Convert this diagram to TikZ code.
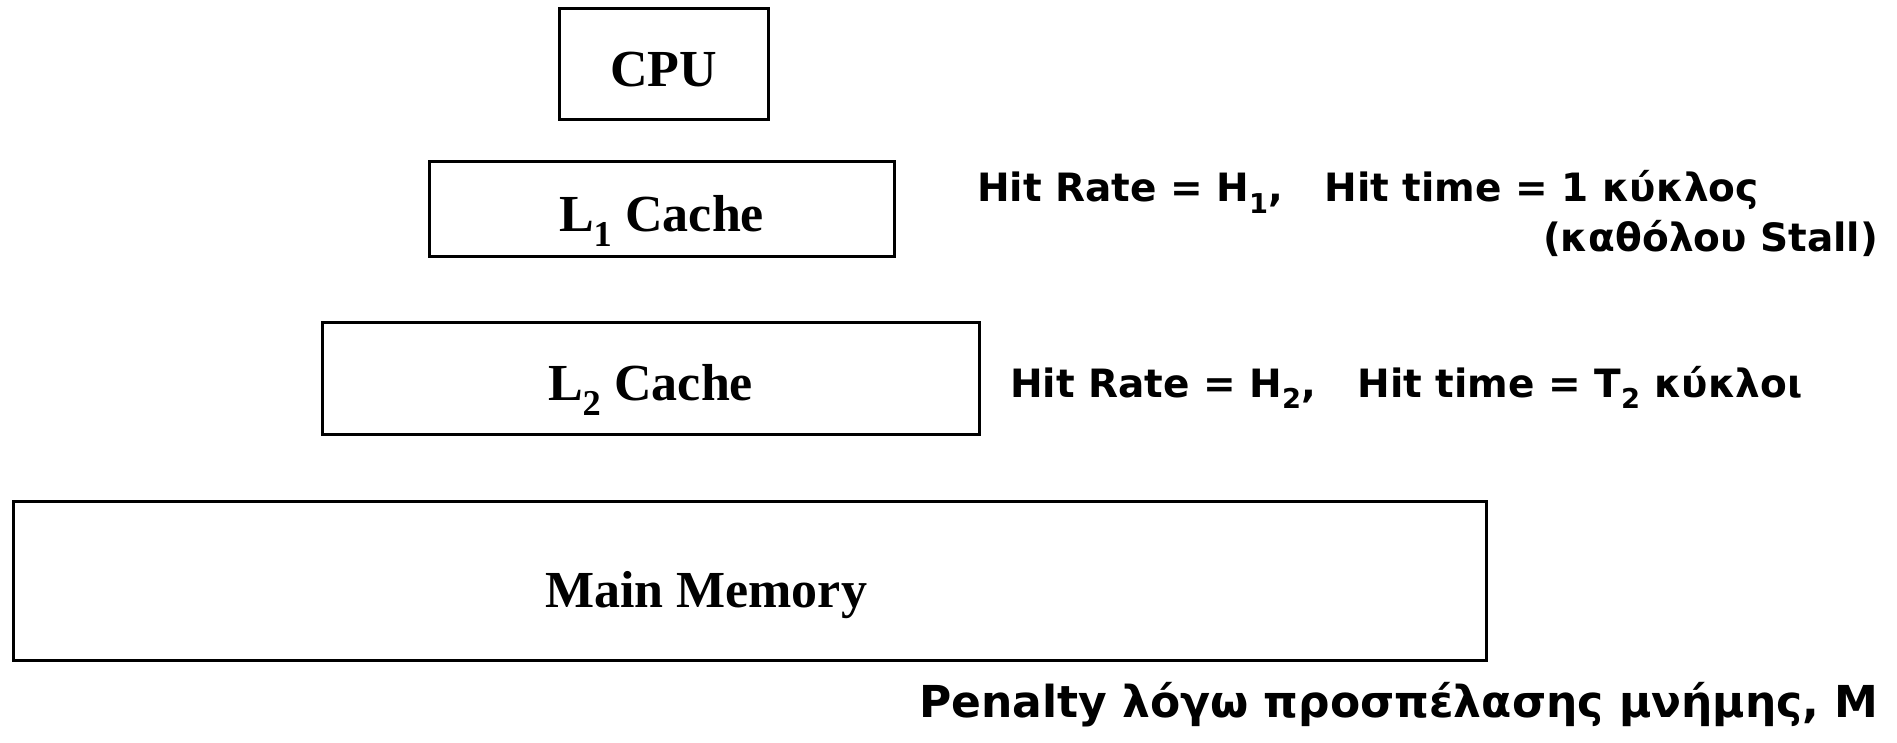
\documentclass[tikz,border=0pt]{standalone}
\usepackage{fontspec}
\setmainfont{Liberation Serif}
\newfontfamily\hitfont{DejaVu Sans}
\usepackage{tikz}
\usetikzlibrary{positioning}

\begin{document}
\begin{tikzpicture}[x=1pt, y=-1pt,
    every node/.style={inner sep=0pt, outer sep=0pt},
    level/.style={draw, line width=3pt, text height=44pt, text depth=0pt,
      font=\fontsize{52}{60}\selectfont\bfseries},
    note/.style={font=\hitfont\bfseries\fontsize{39}{44}\selectfont}]
  \useasboundingbox (0,0) rectangle (1897,743);
  % memory hierarchy
  \node[level, minimum width=209pt, minimum height=111pt]
    (cpu) at (663.5,64.5) {CPU};
  \node[level, minimum width=465pt, minimum height=95pt]
    (l1) at (661.5,209.5) {L\textsubscript{1} Cache};
  \node[level, minimum width=657pt, minimum height=112pt]
    (l2) at (650.5,378) {L\textsubscript{2} Cache};
  \node[level, minimum width=1473pt, minimum height=159pt]
    (mem) at (749.5,580.5) {};
  \node[font=\fontsize{52}{60}\selectfont\bfseries, anchor=base]
    (memtxt) at (706,607) {Main Memory};
  % annotations
  \node[note, anchor=base west] (l1hit) at (977,202)
    {Hit Rate = H\textsubscript{1},\hspace{1.05em}Hit time = 1 κύκλος};
  \node[note, anchor=base east] (l1stall) at (1878,252) {(καθόλου Stall)};
  \node[note, anchor=base west] (l2hit) at (1010,397)
    {Hit Rate = H\textsubscript{2},\hspace{1.05em}Hit time = T\textsubscript{2} κύκλοι};
  \node[note, anchor=base west, font=\hitfont\bfseries\fontsize{44}{50}\selectfont]
    (penalty) at (919,717) {Penalty λόγω προσπέλασης μνήμης, M};
\end{tikzpicture}
\end{document}
